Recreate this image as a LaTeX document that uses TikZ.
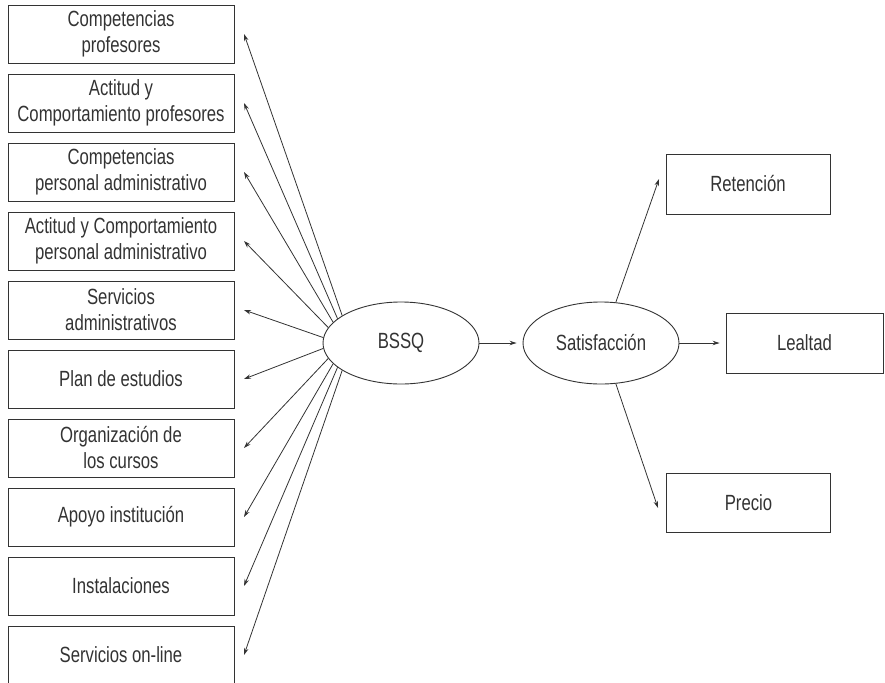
\documentclass[tikz,border=0pt]{standalone}
\usepackage{fontspec}
\setmainfont{Liberation Sans}[FakeStretch=0.76]
\usetikzlibrary{shapes.geometric,arrows.meta}
\definecolor{ink}{gray}{0.2}
\tikzset{
  box/.style={draw=ink, line width=0.9pt, rectangle, inner sep=0pt, align=center,
    text=ink, font=\fontsize{22}{26}\selectfont},
  lbox/.style={box, minimum width=226pt, minimum height=58pt},
  rbox/.style={box, minimum width=164pt, minimum height=60pt},
  oval/.style={draw=ink, line width=0.9pt, ellipse, inner sep=0pt,
    minimum width=156pt, minimum height=82pt, text=ink, font=\fontsize{22}{26}\selectfont},
  arr/.style={draw=ink, line width=0.8pt, -{Stealth[length=7pt,width=4.5pt]}}
}
\begin{document}
\begin{tikzpicture}[x=1pt,y=-1pt]
\useasboundingbox (0,0) rectangle (885,682);
\clip (0,0) rectangle (885,682);
% left boxes
\node[lbox] (b1)  at (121,34)  {Competencias\\profesores};
\node[lbox] (b2)  at (121,103) {Actitud y\\Comportamiento profesores};
\node[lbox] (b3)  at (121,172) {Competencias\\personal administrativo};
\node[lbox] (b4)  at (121,241) {Actitud y Comportamiento\\personal administrativo};
\node[lbox] (b5)  at (121,310) {Servicios\\administrativos};
\node[lbox] (b6)  at (121,379) {Plan de estudios};
\node[lbox] (b7)  at (121,448) {Organización de\\los cursos};
\node[lbox] (b8)  at (121,517) {Apoyo institución};
\node[lbox] (b9)  at (121,586) {Instalaciones};
\node[lbox] (b10) at (121,655) {Servicios on-line};
% arrow tips beside the boxes
\foreach \i/\y in {1/34,2/103,3/172,4/241,5/310,6/379,7/448,8/517,9/586,10/655}
  \coordinate (t\i) at (244,\y);
% ellipses
\node[oval] (bssq) at (401,343) {BSSQ};
\node[oval] (sat)  at (601,343) {Satisfacción};
% right boxes
\node[rbox] (ret) at (748,184) {Retención};
\node[rbox, minimum width=157pt] (leal) at (804.5,343) {Lealtad};
\node[rbox, minimum height=59pt] (pre) at (748.5,502.5) {Precio};
\coordinate (tret) at (659,179);
\coordinate (tpre) at (658,508);
% left fan of arrows
\foreach \i/\a in {1/155,2/159,3/163,4/168,5/176,6/184,7/192,8/197,9/201,10/205}
  \draw[arr] (bssq.\a) -- (t\i);
% right arrows
\draw[arr, shorten >=6pt] (bssq.east) -- (sat.west);
\draw[arr, shorten >=6pt] (sat.east) -- (leal.west);
\draw[arr] (sat.70) -- (tret);
\draw[arr] (sat.-70) -- (tpre);
\end{tikzpicture}
\end{document}
